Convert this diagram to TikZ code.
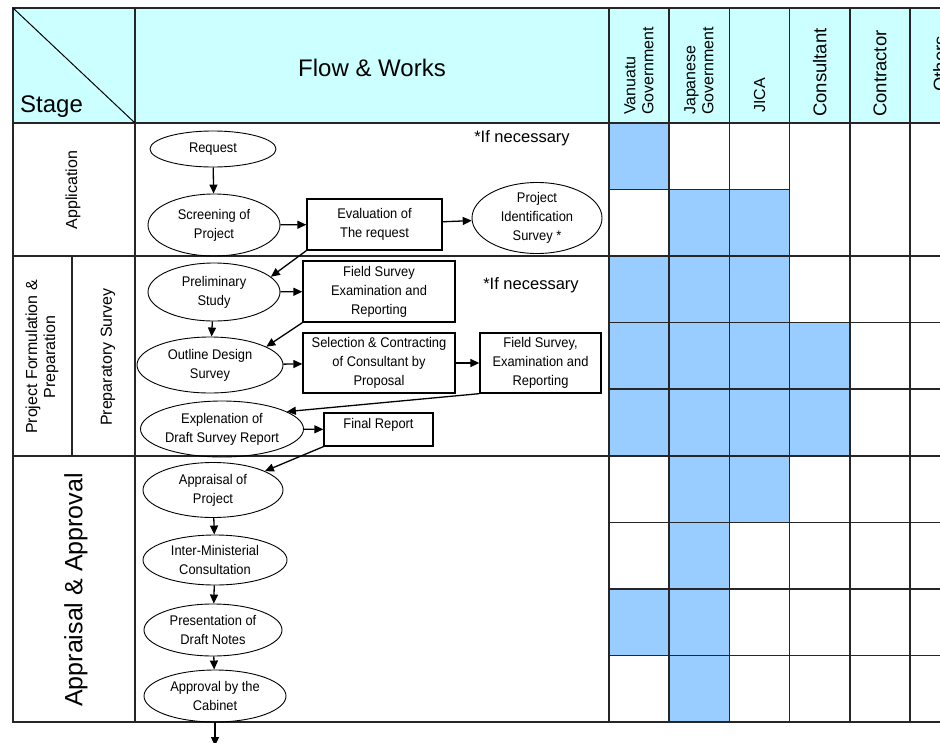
\documentclass[tikz,border=0pt]{standalone}
\usepackage{fontspec}
\setmainfont{Liberation Sans}
\newfontfamily\flowfont[FakeStretch=0.92]{Liberation Sans}
\usetikzlibrary{shapes.geometric,arrows.meta}
\definecolor{headcyan}{RGB}{204,255,255}
\definecolor{cellblue}{RGB}{153,204,255}

\begin{document}
\begin{tikzpicture}[
    x=1pt, y=-1pt,
    tline/.style={line width=1.5pt, black!85},
    oval/.style={ellipse, draw, line width=0.9pt, inner xsep=-8pt, inner ysep=-4pt,
        align=center, font={\flowfont\fontsize{14}{19}\selectfont}},
    box/.style={rectangle, draw, line width=1.3pt, inner sep=0pt, align=center,
        font={\flowfont\fontsize{14}{19}\selectfont}},
    arr/.style={-{Triangle[length=9pt, width=8pt]}, line width=1.3pt},
    colhead/.style={rotate=90, anchor=west, align=left, inner sep=0pt,
        font=\fontsize{16}{18}\selectfont},
    stagelabel/.style={rotate=90, align=center, inner sep=0pt,
        font=\fontsize{16}{18}\selectfont},
    big/.style={inner sep=0pt, font=\fontsize{24}{28}\selectfont},
    note/.style={inner sep=0pt, font=\fontsize{16.5}{20}\selectfont}
]
\useasboundingbox (0,0) rectangle (940,742);
\clip (0,0) rectangle (940,742);

% table background
\fill[headcyan] (13,8) rectangle (970,123);
\foreach \c/\r in {1/1, 2/2, 3/2, 1/3, 2/3, 3/3, 1/4, 2/4, 3/4, 4/4,
                   1/5, 2/5, 3/5, 4/5, 2/6, 3/6, 2/7, 1/8, 2/8, 2/9}
    \fill[cellblue] ({609+60.2*(\c-1)},{123+66.55*(\r-1)}) rectangle ++(60.2,66.55);

% table lines
\draw[tline] (13,8) rectangle (970,722);
\draw[tline] (13,123) -- (970,123);
\draw[tline] (13,256.1) -- (970,256.1);
\draw[tline] (13,455.8) -- (970,455.8);
\foreach \y in {322.7,389.2,522.3,588.9,655.4}
    \draw[tline] (609,\y) -- (970,\y);
\draw[tline] (609,189.6) -- (789.6,189.6);
\foreach \x in {135,609,669.2,729.4,789.6,849.8,910}
    \draw[tline] (\x,8) -- (\x,722);
\draw[tline] (72,256.1) -- (72,455.8);
\draw[line width=1pt] (13,8) -- (135,123);

% headers
\node[big, anchor=base west] (stage) at (20,112) {Stage};
\node[big] (flow) at (372,68) {Flow \& Works};
\node[colhead] (vg) at (639,115) {Vanuatu\\Government};
\node[colhead] (jg) at (699,115) {Japanese\\Government};
\node[colhead] (jica) at (759.5,113) {JICA};
\node[colhead, font=\fontsize{18.5}{20}\selectfont] (cons) at (819.7,117) {Consultant};
\node[colhead, font=\fontsize{18.5}{20}\selectfont] (contr) at (880,117) {Contractor};
\node[colhead, font=\fontsize{18.5}{20}\selectfont] (oth) at (940,92) {Others};

% stages
\node[stagelabel] (stApp) at (73,190) {Application};
\node[stagelabel] (stForm) at (42,357) {Project Formulation \&\\Preparation};
\node[stagelabel] (stPrep) at (108,357) {Preparatory Survey};
\node[stagelabel, font=\fontsize{25}{28}\selectfont] (stAppr) at (76,590) {Appraisal \& Approval};

% application
\node[note] (nec1) at (522,138) {*If necessary};
\node[oval, minimum width=126pt, minimum height=36pt] (req) at (213,149) {Request};
\node[oval, minimum width=132pt, minimum height=62pt] (scr) at (214,225) {Screening of\\Project};
\node[box, minimum width=135pt, minimum height=51pt] (evl) at (374.5,224.5) {Evaluation of\\The request};
\node[oval, minimum width=130pt, minimum height=71pt] (pis) at (537,218) {Project\\Identification\\Survey *};

% project formulation & preparation
\node[oval, minimum width=132pt, minimum height=58pt] (pre) at (214,292) {Preliminary\\Study};
\node[box, minimum width=152pt, minimum height=61pt] (fse) at (379,291.5) {Field Survey\\Examination and\\Reporting};
\node[note] (nec2) at (531,285) {*If necessary};
\node[oval, minimum width=146pt, minimum height=56pt] (ods) at (210,365) {Outline Design\\Survey};
\node[box, minimum width=152pt, minimum height=60pt] (sel) at (379,363) {Selection \& Contracting\\of Consultant by\\Proposal};
\node[box, minimum width=121pt, minimum height=60pt] (fs2) at (540.5,363) {Field Survey,\\Examination and\\Reporting};
\node[oval, minimum width=163pt, minimum height=56pt] (exp) at (222,429) {Explenation of\\Draft Survey Report};
\node[box, minimum width=109pt, minimum height=33pt, text depth=12pt] (fin) at (378.5,429.5) {Final Report};

% appraisal & approval
\node[oval, minimum width=140pt, minimum height=55pt] (app) at (213,490) {Appraisal of\\Project};
\node[oval, minimum width=144pt, minimum height=50pt] (imc) at (215,560) {Inter-Ministerial\\Consultation};
\node[oval, minimum width=138pt, minimum height=52pt] (pdn) at (213,630) {Presentation of\\Draft Notes};
\node[oval, minimum width=142pt, minimum height=52pt] (abc) at (215,696) {Approval by the\\Cabinet};
\coordinate (out) at (215,746);

\draw[arr] (req) -- (scr);
\draw[arr] (scr) -- (evl);
\draw[arr] (evl) -- (pis);
\draw[arr] (evl.south west) -- (pre.15);
\draw[arr] (pre) -- (fse);
\draw[arr] (pre) -- (ods);
\draw[arr] (fse.south west) -- (ods.18);
\draw[arr] (ods) -- (sel);
\draw[arr] (sel) -- (fs2);
\draw[arr] (fs2.south west) -- (exp.15);
\draw[arr] (exp) -- (fin);
\draw[arr] (fin.south west) -- (app.20);
\draw[arr] (app) -- (imc);
\draw[arr] (imc) -- (pdn);
\draw[arr] (pdn) -- (abc);
\draw[arr] (abc) -- (out);
\end{tikzpicture}
\end{document}
